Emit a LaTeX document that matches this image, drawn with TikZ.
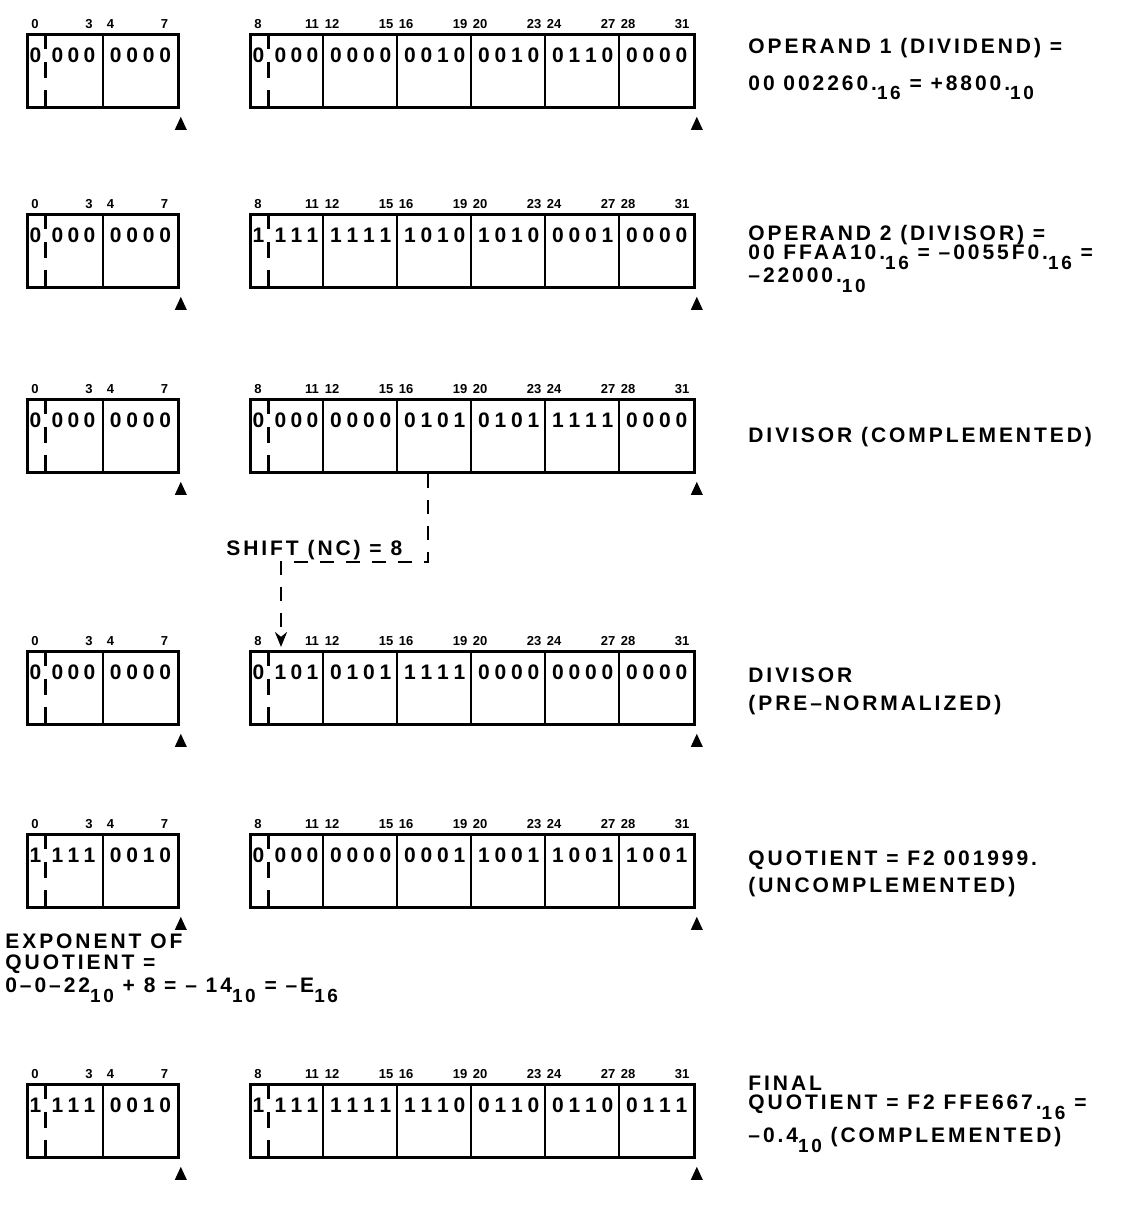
\documentclass[tikz,border=0pt]{standalone}
\usepackage{fontspec}
\setmainfont{Liberation Sans}
\newfontfamily\lettering{Liberation Sans}[LetterSpace=14]
\usetikzlibrary{arrows.meta, positioning, calc}

% one nibble of bits, and the nibble that carries the sign bit
\newcommand\nibx[4]{\makebox[8.25pt]{#1}\makebox[8.25pt]{#2}\makebox[8.25pt]{#3}\makebox[8.25pt]{#4}}
\newcommand\nib[1]{\edef\nibtmp{#1}\expandafter\nibx\nibtmp}
\newcommand\signnibx[4]{\makebox[7pt]{#1}\hspace{3.5pt}\makebox[8pt]{#2}\makebox[8pt]{#3}\makebox[8pt]{#4}}
\newcommand\signnib[1]{\edef\nibtmp{#1}\expandafter\signnibx\nibtmp}
\newcommand\lowsub[1]{\raisebox{-5pt}{\fontsize{9.5}{10}\selectfont #1}}

\begin{document}
\begin{tikzpicture}[
    x=0.5pt, y=-0.5pt,
    regbox/.style={draw, line width=1.4pt, minimum height=36.5pt, inner sep=0pt, anchor=north west},
    bits/.style={font=\fontsize{10.5}{12}\selectfont\bfseries, inner sep=0pt, anchor=west},
    bitnum/.style={font=\fontsize{6.5}{7}\selectfont\bfseries, inner sep=0pt},
    note/.style={font=\fontsize{10.5}{12}\selectfont\lettering\bfseries, inner sep=0pt, anchor=base west},
    divider/.style={line width=1.4pt},
    signline/.style={line width=1.4pt, dash pattern=on 8pt off 6.25pt},
    marker/.style={fill=black},
    shiftline/.style={line width=1.2pt, dash pattern=on 7pt off 6pt, -{Stealth[length=7.5pt, width=6pt]}}
]
\useasboundingbox (0,0) rectangle (1135,1226);

\foreach \r/\y/\nA/\nB/\nC/\nD/\nE/\nF/\nG/\nH in {
    1/33/0000/0000/0000/0000/0010/0010/0110/0000,
    2/213/0000/0000/1111/1111/1010/1010/0001/0000,
    3/398/0000/0000/0000/0000/0101/0101/1111/0000,
    4/650/0000/0000/0101/0101/1111/0000/0000/0000,
    5/833/1111/0010/0000/0000/0001/1001/1001/1001,
    6/1083/1111/0010/1111/1111/1110/0110/0110/0111}{
  \node[regbox, minimum width=75.5pt] (L\r) at (26,\y) {};
  \node[regbox, minimum width=222pt] (R\r) at (249,\y) {};
  \draw[divider] (L\r.north) -- (L\r.south);
  \foreach \k in {1,...,5}
    \draw[divider] ($(R\r.north west)+(74*\k,0)$) -- ($(R\r.south west)+(74*\k,0)$);
  \draw[signline] ($(L\r.north west)+(19.5,0)$) -- ($(L\r.south west)+(19.5,0)$);
  \draw[signline] ($(R\r.north west)+(19.5,0)$) -- ($(R\r.south west)+(19.5,0)$);
  % bits
  \node[bits] (b\r-a) at ($(L\r.north west)+(2,22)$) {\signnib{\nA}};
  \node[bits] (b\r-b) at ($(L\r.north)+(4.25,22)$) {\nib{\nB}};
  \node[bits] (b\r-c) at ($(R\r.north west)+(2,22)$) {\signnib{\nC}};
  \node[bits] (b\r-d) at ($(R\r.north west)+(78.25,22)$) {\nib{\nD}};
  \node[bits] (b\r-e) at ($(R\r.north west)+(152.25,22)$) {\nib{\nE}};
  \node[bits] (b\r-f) at ($(R\r.north west)+(226.25,22)$) {\nib{\nF}};
  \node[bits] (b\r-g) at ($(R\r.north west)+(300.25,22)$) {\nib{\nG}};
  \node[bits] (b\r-h) at ($(R\r.north west)+(374.25,22)$) {\nib{\nH}};
  % bit numbers
  \foreach \n in {0,...,7}{
    \pgfmathsetmacro\nx{\n<2 ? 26+75.5*\n : 249+74*(\n-2)}
    \pgfmathtruncatemacro\first{4*\n}
    \pgfmathtruncatemacro\last{4*\n+3}
    \node[bitnum] (n\r-\first) at (\nx+9,\y-9) {\first};
    \node[bitnum] (n\r-\last) at (\nx+63,\y-9) {\last};
  }
  % end markers
  \fill[marker] ($(L\r.south east)+(1,8)$) -- ++(6,13) -- ++(-12,0) -- cycle;
  \fill[marker] ($(R\r.south east)+(1,8)$) -- ++(6,13) -- ++(-12,0) -- cycle;
}

% notes
\node[note] (t1a) at (748,54) {OPERAND 1 (DIVIDEND) =};
\node[note] (t1b) at (748,90) {00 002260.\lowsub{16} = +8800.\lowsub{10}};
\node[note] (t2a) at (748,240) {OPERAND 2 (DIVISOR) =};
\node[note] (t2b) at (748,259) {00 FFAA10.\lowsub{16} = –0055F0.\lowsub{16} =};
\node[note] (t2c) at (748,282) {–22000.\lowsub{10}};
\node[note] (t3a) at (748,442) {DIVISOR (COMPLEMENTED)};
\node[note] (t4a) at (748,682) {DIVISOR};
\node[note] (t4b) at (748,710) {(PRE–NORMALIZED)};
\node[note] (t5a) at (748,865) {QUOTIENT = F2 001999.};
\node[note] (t5b) at (748,892) {(UNCOMPLEMENTED)};
\node[note] (t6a) at (748,1090) {FINAL};
\node[note] (t6b) at (748,1109) {QUOTIENT = F2 FFE667.\lowsub{16} =};
\node[note] (t6c) at (748,1142) {–0.4\lowsub{10} (COMPLEMENTED)};

\node[note] (exp1) at (5,948) {EXPONENT OF};
\node[note] (exp2) at (5,969) {QUOTIENT =};
\node[note] (exp3) at (5,992) {0–0–22\lowsub{10} + 8 = – 14\lowsub{10} = –E\lowsub{16}};

% shift of the divisor
\node[note] (shift) at (226,555) {SHIFT (NC) = 8};
\coordinate (shiftfrom) at ($(R3.south west)+(179,0)$);
\coordinate (shifttip) at ($(R4.north west)+(32,-3)$);
\draw[shiftline] (shiftfrom) -- ++(0,88) -| (shifttip);

\end{tikzpicture}
\end{document}
